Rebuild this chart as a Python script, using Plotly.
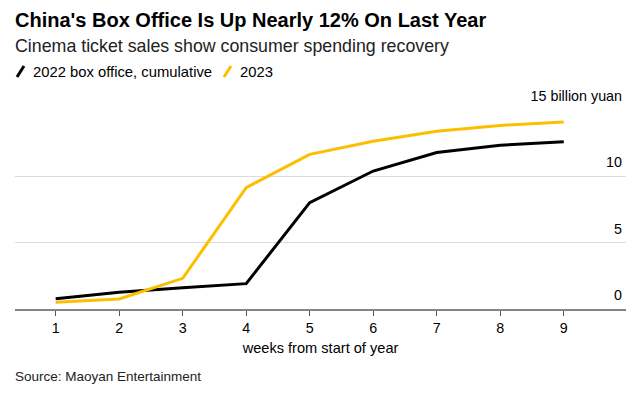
import plotly.graph_objects as go

weeks = [1, 2, 3, 4, 5, 6, 7, 8, 9]
box_2022 = [0.78, 1.26, 1.61, 1.91, 8.02, 10.4, 11.8, 12.34, 12.6]
box_2023 = [0.5, 0.75, 2.31, 9.15, 11.66, 12.64, 13.39, 13.84, 14.1]
y_tickvals = [0, 5, 10, 15]
y_ticktext = ["0", "5", "10", "15 billion yuan"]

BLACK = "#000000"
YELLOW = "#FCBF00"
FONT = "Liberation Sans, Arial, sans-serif"

fig = go.Figure()
fig.add_trace(go.Scatter(x=weeks, y=box_2022, mode="lines", name="2022 box office, cumulative",
                         line=dict(color=BLACK, width=3)))
fig.add_trace(go.Scatter(x=weeks, y=box_2023, mode="lines", name="2023",
                         line=dict(color=YELLOW, width=3)))

W, H = 639, 398
ml, mr, mt, mb = 15, 13, 110, 89
PW, PH = W - ml - mr, H - mt - mb

fig.update_layout(
    width=W, height=H,
    margin=dict(l=ml, r=mr, t=mt, b=mb, autoexpand=False),
    paper_bgcolor="white", plot_bgcolor="white",
    showlegend=False,
    font=dict(family=FONT, color="#000000", size=14),
    xaxis=dict(
        range=[0.36, 9.98],
        tickvals=weeks,
        automargin=False,
        showgrid=False, zeroline=False,
        showline=True, linecolor="#858585", linewidth=2,
        ticks="outside", ticklen=5, tickwidth=1, tickcolor="#555555",
        tickfont=dict(size=14.3, color="#000000"),
        ticklabeloverflow="allow",
        title=dict(text="weeks from start of year", font=dict(size=14.6), standoff=8),
    ),
    yaxis=dict(
        range=[0, 15],
        side="right",
        automargin=False,
        tickvals=y_tickvals, ticktext=y_ticktext,
        ticklabelposition="inside",
        ticklabeloverflow="allow",
        ticklabelshift=-14,
        ticklabelstandoff=1,
        showgrid=True, gridcolor="#dcdcdc", gridwidth=1,
        zeroline=False, showline=False, ticks="",
        tickfont=dict(size=14.3, color="#000000"),
    ),
)

def px_x(x):
    return (x - ml) / PW

def px_y(y):
    return (H - mb - y) / PH

# Title, subtitle, source
fig.add_annotation(text="<b>China's Box Office Is Up Nearly 12% On Last Year</b>",
                   x=px_x(13), y=px_y(20), xref="paper", yref="paper",
                   xanchor="left", yanchor="middle", showarrow=False,
                   font=dict(size=20, family=FONT, color="#000000"))
fig.add_annotation(text="Cinema ticket sales show consumer spending recovery",
                   x=px_x(13), y=px_y(46), xref="paper", yref="paper",
                   xanchor="left", yanchor="middle", showarrow=False,
                   font=dict(size=17.8, family=FONT, color="#222222"))
fig.add_annotation(text="Source: Maoyan Entertainment",
                   x=px_x(13), y=px_y(376), xref="paper", yref="paper",
                   xanchor="left", yanchor="middle", showarrow=False,
                   font=dict(size=13.5, family=FONT, color="#222222"))

# Legend (slash markers + labels)
legend_items = [("2022 box office, cumulative", BLACK, 17), ("2023", YELLOW, 224)]
for label, color, x0 in legend_items:
    fig.add_shape(type="line", xref="paper", yref="paper",
                  x0=px_x(x0), y0=px_y(77), x1=px_x(x0 + 7), y1=px_y(66),
                  line=dict(color=color, width=3))
    fig.add_annotation(text=label, x=px_x(x0 + 14), y=px_y(72), xref="paper", yref="paper",
                       xanchor="left", yanchor="middle", showarrow=False,
                       font=dict(size=14.8, family=FONT, color="#000000"))

fig.write_html("out.html", config={"displayModeBar": False},
               post_script="document.body.style.margin='0';")
